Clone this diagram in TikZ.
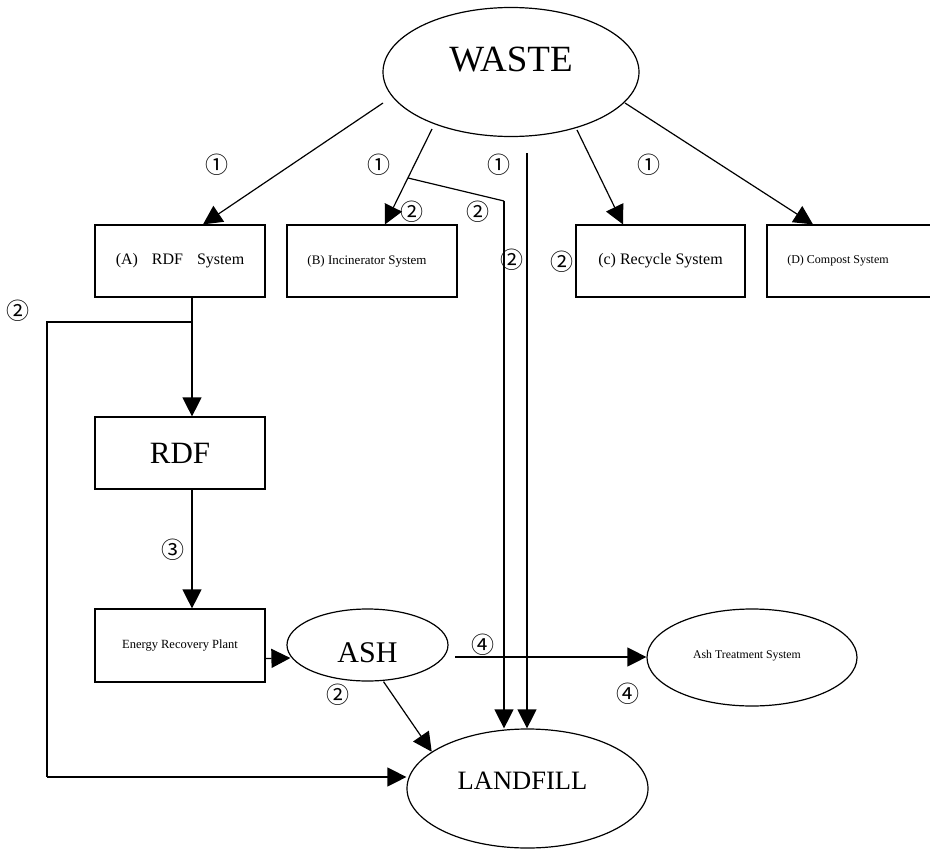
\documentclass[tikz,border=0pt]{standalone}
\usepackage{fontspec}
\setmainfont{Liberation Serif}
\newfontfamily\cjk{Noto Sans CJK JP}
\usetikzlibrary{shapes.geometric,arrows.meta,calc}
\begin{document}
\begin{tikzpicture}[x=1pt,y=-1pt,
  line width=1.2pt,
  box/.style={draw,rectangle,minimum width=170pt,minimum height=72pt,inner sep=0pt},
  oval/.style={draw,ellipse,inner sep=0pt},
  arr/.style={-{Triangle[length=19pt,width=19pt]}},
  num/.style={font=\cjk\fontsize{23}{23}\selectfont,inner sep=0pt},
]
\useasboundingbox (0,0) rectangle (930,849);

% nodes
\node[oval,minimum width=256pt,minimum height=129pt,
  label={[font=\fontsize{37}{37}\selectfont,yshift=12pt]center:WASTE}] (waste) at (511,72) {};
\node[box] (rdfsys) at (180,261) {\fontsize{16}{16}\selectfont (A)\hspace{14pt}RDF\hspace{14pt}System};
\node[box,label={[font=\fontsize{13}{13}\selectfont,xshift=-5pt]center:(B) Incinerator System}] (incin) at (372,261) {};
\node[box,minimum width=169pt] (recyc) at (660.5,261) {\fontsize{16}{16}\selectfont (c) Recycle System};
\node[box,label={[font=\fontsize{12}{12}\selectfont,xshift=-14pt]center:(D) Compost System}] (compost) at (852,261) {};
\node[box] (rdf) at (180,453) {\fontsize{31}{31}\selectfont RDF};
\node[box,minimum height=73pt] (erp) at (180,645.5) {\fontsize{12.5}{12.5}\selectfont Energy Recovery Plant};
\node[oval,minimum width=161pt,minimum height=72pt,
  label={[font=\fontsize{30}{30}\selectfont,yshift=-8pt]center:ASH}] (ash) at (367.5,645) {};
\node[oval,minimum width=210pt,minimum height=97pt,
  label={[font=\fontsize{11.8}{11.8}\selectfont,xshift=-5pt,yshift=2pt]center:Ash Treatment System}] (ats) at (752,657.5) {};
\node[oval,minimum width=241pt,minimum height=119pt,
  label={[font=\fontsize{26.5}{26.5}\selectfont,xshift=-5pt,yshift=8pt]center:LANDFILL}] (landfill) at (527.5,788.5) {};

% coordinates
\coordinate (w1) at (383,103);
\coordinate (w2) at (432,129);
\coordinate (w3) at (527,153);
\coordinate (w4) at (577,130);
\coordinate (w5) at (625,103);
\coordinate (b0) at (408,178);
\coordinate (b1) at (504,201);
\coordinate (r0) at (192,322);
\coordinate (r1) at (47,322);
\coordinate (r2) at (47,777);
\coordinate (a0) at (455,657);

% connectors
\draw[arr] (w1) -- ([xshift=23pt]rdfsys.north);
\draw[arr] (w2) -- ([xshift=13pt]incin.north);
\draw (b0) -- (b1);
\draw[arr] (b1) -- (b1 |- landfill.north);
\draw[arr] (w3) -- (w3 |- landfill.north);
\draw[arr] (w4) -- ([xshift=-37.5pt]recyc.north);
\draw[arr] (w5) -- ([xshift=-39pt]compost.north);
\draw[arr] ([xshift=12pt]rdfsys.south) -- ([xshift=12pt]rdf.north);
\draw (r0) -- (r1) -- (r2);
\draw[arr] (r2) -- (r2 -| landfill.west);
\draw[arr] ([xshift=12pt]rdf.south) -- ([xshift=12pt]erp.north);
\draw[arr] ([yshift=-13pt]erp.east) -- ([xshift=4pt,yshift=-13pt]ash.west);
\draw[arr] ([xshift=16pt]ash.south) -- (landfill.159.5);
\draw[arr] (a0) -- (a0 -| ats.west);

% labels
\node[num] (n1a) at (217,165) {①};
\node[num] (n1b) at (379,165) {①};
\node[num] (n1c) at (499,165) {①};
\node[num] (n1d) at (649,165) {①};
\node[num] (n2a) at (412,212) {②};
\node[num] (n2b) at (478,212) {②};
\node[num] (n2c) at (512,260) {②};
\node[num] (n2d) at (562,262) {②};
\node[num] (n2e) at (18,311) {②};
\node[num] (n2f) at (338,695) {②};
\node[num] (n3) at (173,550) {③};
\node[num] (n4a) at (483,645) {④};
\node[num] (n4b) at (628,694) {④};
\end{tikzpicture}
\end{document}
